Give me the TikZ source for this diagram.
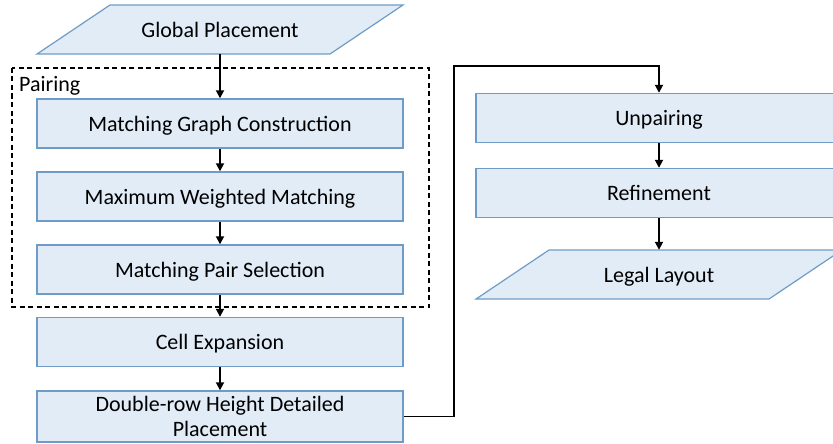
\documentclass[tikz,border=0pt]{standalone}
\usepackage{fontspec}
\setmainfont{Carlito}
\usetikzlibrary{arrows.meta}
\definecolor{boxfill}{HTML}{E2ECF7}
\definecolor{boxline}{HTML}{6F9CC6}
\tikzset{
  txt/.style={font=\fontsize{22}{25}\selectfont},
  stepbox/.style={draw=boxline, fill=boxfill, line width=1.4pt, rectangle,
    minimum width=366pt, minimum height=49pt, inner sep=0pt, txt, align=center, text depth=0pt},
  ioshape/.style={draw=boxline, fill=boxfill, line width=1.2pt},
  iotext/.style={rectangle, minimum width=293pt, minimum height=49pt, inner sep=0pt, txt, text depth=0pt},
  flow/.style={draw=black, line width=1.8pt, -{Triangle[width=8pt,length=8pt]}},
}
\begin{document}
\begin{tikzpicture}[x=1pt,y=-1pt]
\useasboundingbox (0,0) rectangle (833,444);
\clip (0,0) rectangle (833,444);
% left column
\draw[ioshape] (37,54) -- (110,5) -- (403,5) -- (330,54) -- cycle;
\node[iotext] (gp) at (220,29.5) {Global Placement};
\node[stepbox] (mgc) at (220,123.5) {Matching Graph Construction};
\node[stepbox] (mwm) at (220,196.5) {Maximum Weighted Matching};
\node[stepbox] (mps) at (220,269.5) {Matching Pair Selection};
\node[stepbox] (ce) at (220,342) {Cell Expansion};
\node[stepbox, minimum height=51pt] (dr) at (220,416.5) {Double-row Height Detailed\\Placement};
% pairing group
\draw[line width=1.1pt, dash pattern=on 5pt off 3.5pt] (12,68) rectangle (429,307);
\node[anchor=west, txt, inner sep=0pt] (pair) at (19,86) {Pairing};
% right column
\node[stepbox] (unp) at (659,118) {Unpairing};
\node[stepbox] (ref) at (659,193) {Refinement};
\draw[ioshape] (476,299) -- (549,250) -- (842,250) -- (769,299) -- cycle;
\node[iotext] (ll) at (659,274.5) {Legal Layout};
% connectors
\draw[flow] (gp) -- (mgc);
\draw[flow] (mgc) -- (mwm);
\draw[flow] (mwm) -- (mps);
\draw[flow] (mps) -- (ce);
\draw[flow] (ce) -- (dr);
\coordinate (c1) at (454,66);
\draw[flow] (dr.east) -| (c1) -| (unp.north);
\draw[flow] (unp) -- (ref);
\draw[flow] (ref) -- (ll);
\end{tikzpicture}
\end{document}
